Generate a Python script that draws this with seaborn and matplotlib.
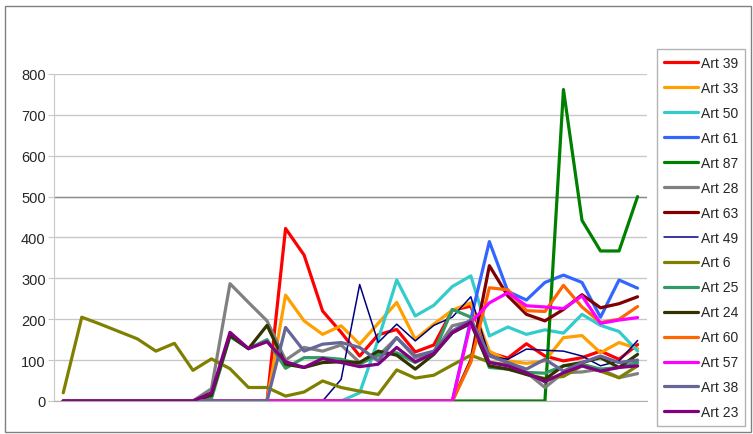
import matplotlib
matplotlib.use("Agg")
import matplotlib.pyplot as plt
import seaborn as sns
import pandas as pd
from matplotlib.patches import Rectangle

sns.set_style("white")
plt.rcParams['font.family'] = ['Liberation Sans', 'DejaVu Sans']

# data (32 points per series)
n = 32
art_39 = [0]*12 + [422, 357, 220, 168, 110, 162, 175, 120, 137, 222, 232, 118, 105, 140, 110, 98, 106, 122, 102, 138]
art_33 = [0]*12 + [259, 196, 163, 184, 139, 190, 241, 151, 188, 222, 240, 122, 98, 92, 98, 155, 160, 118, 143, 128]
art_50 = [0]*16 + [20, 150, 296, 208, 234, 280, 306, 159, 181, 163, 174, 166, 212, 185, 170, 122]
art_61 = [0]*22 + [200, 390, 268, 247, 290, 308, 290, 205, 296, 276]
art_87 = [0]*27 + [762, 442, 367, 367, 500]
art_28 = [0]*8 + [30, 287, 241, 196, 100, 131, 122, 137, 94, 110, 155, 106, 118, 184, 195, 110, 94, 70, 33, 69, 71, 78, 57, 67]
art_63 = [0]*22 + [100, 331, 257, 212, 196, 224, 260, 228, 238, 255]
art_49 = [0]*15 + [53, 285, 143, 188, 147, 185, 205, 255, 110, 102, 127, 124, 122, 110, 86, 98, 148]
art_6 = [20, 205, 188, 170, 152, 122, 141, 75, 103, 79, 33, 33, 12, 22, 49, 33, 24, 16, 76, 56, 63, 88, 112, 95, 88, 65, 55, 60, 86, 73, 57, 86]
art_25 = [0]*8 + [6, 158, 128, 150, 80, 106, 106, 102, 90, 114, 118, 94, 118, 224, 205, 82, 78, 70, 68, 86, 90, 78, 82, 94]
art_24 = [0]*8 + [14, 160, 128, 185, 90, 82, 94, 96, 94, 122, 112, 78, 114, 167, 190, 86, 78, 65, 53, 86, 94, 106, 82, 114]
art_60 = [0]*22 + [95, 277, 272, 221, 219, 283, 230, 192, 200, 231]
art_57 = [0]*22 + [192, 240, 265, 233, 230, 226, 257, 190, 198, 204]
art_38 = [0]*12 + [180, 122, 139, 143, 131, 98, 155, 110, 122, 171, 198, 112, 94, 78, 102, 73, 94, 110, 94, 100]
art_23 = [0]*8 + [20, 168, 128, 145, 96, 82, 104, 94, 84, 90, 131, 96, 116, 167, 193, 94, 86, 69, 47, 69, 86, 73, 82, 86]

series = {
    "Art 39": art_39, "Art 33": art_33, "Art 50": art_50, "Art 61": art_61,
    "Art 87": art_87, "Art 28": art_28, "Art 63": art_63, "Art 49": art_49,
    "Art 6": art_6, "Art 25": art_25, "Art 24": art_24, "Art 60": art_60,
    "Art 57": art_57, "Art 38": art_38, "Art 23": art_23,
}
colors = {
    "Art 39": "#ff0000", "Art 33": "#ffa000", "Art 50": "#33cccc", "Art 61": "#3366ff",
    "Art 87": "#008000", "Art 28": "#808080", "Art 63": "#800000", "Art 49": "#000080",
    "Art 6": "#808000", "Art 25": "#339966", "Art 24": "#333300", "Art 60": "#ff6600",
    "Art 57": "#ff00ff", "Art 38": "#666699", "Art 23": "#800080",
}

fig = plt.figure(figsize=(7.53, 4.35), dpi=100)
ax = fig.add_axes([0.0717, 0.0759, 0.7873, 0.7517])

for name, vals in series.items():
    df = pd.DataFrame({"x": range(n), "y": vals})
    lw = 1.1 if name == "Art 49" else 2.3
    sns.lineplot(data=df, x="x", y="y", ax=ax, color=colors[name], linewidth=lw,
                 label=name, legend=False)

ax.set_xlim(-0.5, n - 0.5)
ax.set_ylim(0, 800)
ax.set_yticks(range(0, 801, 100))
ax.set_xticks([])
ax.set_xlabel("")
ax.set_ylabel("")
ax.yaxis.grid(True, color="#c8c8c8", linewidth=1)
ax.axhline(500, color="#8c8c8c", linewidth=1, zorder=0.6)
ax.set_axisbelow(True)
for s in ["top", "right"]:
    ax.spines[s].set_visible(False)
ax.spines["left"].set_color("#c8c8c8")
ax.spines["bottom"].set_color("#b0b0b0")
ax.tick_params(axis="y", left=True, length=4, color="#c8c8c8", labelsize=10.5, pad=2)

handles, labels = ax.get_legend_handles_labels()
leg = fig.legend(handles, labels, loc="upper left", bbox_to_anchor=(0.873, 0.884),
                 fontsize=10, frameon=True, fancybox=False, edgecolor="#a0a0a0",
                 labelspacing=0.79, handlelength=2.5, handletextpad=0.2,
                 borderpad=0.45, borderaxespad=0)
leg.get_frame().set_linewidth(1)

fig.patches.append(Rectangle((0.006, 0.005), 0.991, 0.978, transform=fig.transFigure,
                             fill=False, edgecolor="#808080", linewidth=1))

fig.savefig("out.png", dpi=100)
